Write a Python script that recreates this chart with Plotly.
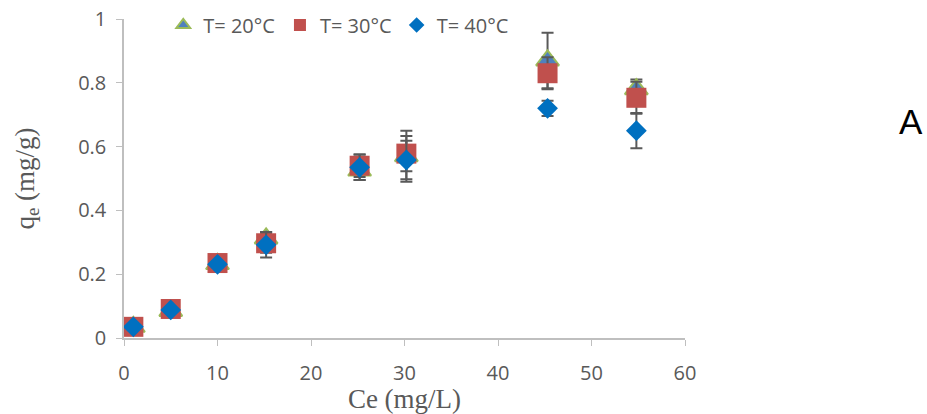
import plotly.graph_objects as go

ce = [1.0, 5.0, 10.0, 15.2, 25.2, 30.2, 45.3, 54.8]
q20 = [0.035, 0.085, 0.232, 0.312, 0.525, 0.57, 0.87, 0.78]
q30 = [0.035, 0.091, 0.235, 0.297, 0.54, 0.578, 0.83, 0.753]
q40 = [0.035, 0.088, 0.231, 0.292, 0.535, 0.558, 0.72, 0.65]
e20 = [0.005, 0.008, 0.01, 0.02, 0.03, 0.08, 0.087, 0.03]
e30 = [0.005, 0.008, 0.01, 0.03, 0.035, 0.055, 0.05, 0.05]
e40 = [0.005, 0.008, 0.01, 0.04, 0.04, 0.06, 0.024, 0.055]
names = ["T= 20°C", "T= 30°C", "T= 40°C"]
xticks = [0, 10, 20, 30, 40, 50, 60]
yticks = [0, 0.2, 0.4, 0.6, 0.8, 1]

L, R, T, B = 124, 685, 19, 338
W, H = 927, 414

err_col = "#595959"
fig = go.Figure()
series = [
    (q20, e20, names[0], dict(symbol="triangle-up", size=20, color="#4F81BD", line=dict(color="#9BBB59", width=2))),
    (q30, e30, names[1], dict(symbol="square", size=20, color="#C0504D", line=dict(color="#C0504D", width=0))),
    (q40, e40, names[2], dict(symbol="diamond", size=16, color="#0070C0", line=dict(color="#0070C0", width=0))),
]
for q, e, n, m in series:
    fig.add_trace(go.Scatter(
        x=ce, y=q, mode="markers", name=n, marker=m,
        error_y=dict(type="data", array=e, visible=True, color=err_col, thickness=2, width=6),
    ))

fig.add_annotation(text="A", xref="paper", yref="paper", showarrow=False,
                   x=(911 - L) / (R - L), y=(B - 121) / (B - T), xanchor="center", yanchor="middle",
                   font=dict(family="Liberation Sans", size=35, color="black"))

fig.update_layout(
    width=W, height=H,
    margin=dict(l=L, r=W - R, t=T, b=H - B, autoexpand=False),
    paper_bgcolor="white", plot_bgcolor="white",
    font=dict(family="Open Sans", color="#595959"),
    legend=dict(orientation="h", x=0.07, y=(B - 25) / (B - T), xanchor="left", yanchor="middle",
                font=dict(size=20, color="#595959"), bgcolor="rgba(0,0,0,0)",
                itemsizing="constant", tracegroupgap=0),
    showlegend=True,
)
fig.update_xaxes(range=[0, 60], tickvals=xticks, ticks="outside", ticklen=6, tickcolor="#BFBFBF",
                 showline=True, linecolor="#BFBFBF", linewidth=1.5, showgrid=False, zeroline=False,
                 ticklabelstandoff=10,
                 tickfont=dict(size=20, color="#595959", family="Open Sans"),
                 title=dict(text="Ce (mg/L)", font=dict(family="Liberation Serif", size=27, color="#595959"), standoff=0))
fig.update_yaxes(range=[0, 1], tickvals=yticks, ticks="outside", ticklen=6, tickcolor="#BFBFBF",
                 showline=True, linecolor="#BFBFBF", linewidth=1.5, showgrid=False, zeroline=False,
                 ticklabelstandoff=6,
                 tickfont=dict(size=20, color="#595959", family="Open Sans"),
                 title=dict(text="q<sub>e</sub> (mg/g)", font=dict(family="Liberation Serif", size=27, color="#595959"), standoff=36))

fig.write_html("out.html")
